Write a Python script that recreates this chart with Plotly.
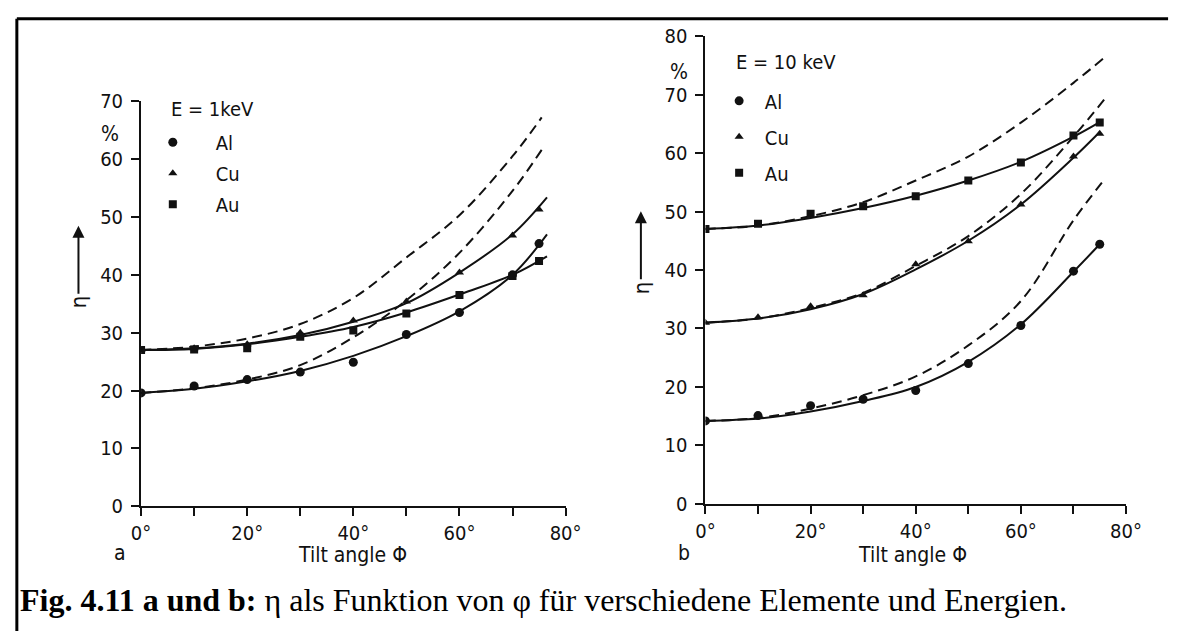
import plotly.graph_objects as go

W, H = 1188, 643

# ---------------- data ----------------
angles_pts = [0, 10, 20, 30, 40, 50, 60, 70, 75]

# panel a, E = 1 keV : measured points
a_al = [19.6, 20.8, 21.9, 23.2, 24.9, 29.7, 33.5, 40.0, 45.4]
a_cu = [27.0, 27.3, 28.0, 30.0, 32.1, 35.4, 40.4, 46.8, 51.3]
a_au = [27.0, 27.1, 27.3, 29.3, 30.4, 33.3, 36.5, 39.8, 42.4]
# panel a : solid fitted curves
a_fit_x = [0, 10, 20, 30, 40, 50, 60, 70, 76.5]
a_al_fit = [19.6, 20.3, 21.6, 23.4, 26.0, 29.4, 33.7, 40.0, 47.0]
a_cu_fit = [27.0, 27.3, 28.1, 29.6, 31.9, 35.1, 40.4, 47.0, 53.4]
a_au_fit = [27.0, 27.2, 28.0, 29.3, 31.0, 33.5, 36.6, 40.0, 43.2]
# panel a : dashed curves
a_dash_x = [0, 10, 20, 30, 40, 50, 60, 70, 75.5]
a_dash_upper = [27.0, 27.6, 29.0, 31.5, 36.0, 43.0, 50.3, 60.5, 67.2]
a_dash_lower = [19.6, 20.4, 21.9, 24.4, 29.2, 35.6, 43.8, 54.5, 61.6]

# panel b, E = 10 keV : measured points
b_al = [14.2, 15.1, 16.8, 17.9, 19.4, 24.0, 30.5, 39.8, 44.4]
b_cu = [31.0, 31.9, 33.8, 35.7, 41.0, 44.9, 51.2, 59.4, 63.3]
b_au = [47.0, 47.9, 49.6, 50.9, 52.6, 55.3, 58.4, 63.0, 65.2]
# panel b : solid fitted curves
b_fit_x = [0, 10, 20, 30, 40, 50, 60, 70, 75]
b_al_fit = [14.2, 14.6, 15.8, 17.6, 20.0, 24.3, 30.7, 39.7, 44.4]
b_cu_fit = [31.0, 31.7, 33.3, 35.9, 40.1, 45.0, 51.2, 59.2, 63.6]
b_au_fit = [47.0, 47.6, 48.9, 50.6, 52.7, 55.3, 58.5, 62.8, 65.3]
# panel b : dashed curves
b_dash_x = [0, 10, 20, 30, 40, 50, 60, 70, 76]
b_dash_au = [47.0, 47.6, 49.2, 51.6, 55.3, 59.4, 65.2, 72.0, 76.4]
b_dash_cu = [31.0, 31.7, 33.5, 36.1, 40.7, 45.8, 53.0, 62.8, 69.3]
b_dash_al = [14.2, 14.7, 16.3, 18.6, 21.8, 27.1, 34.7, 48.5, 55.6]

x_tickvals = [0, 10, 20, 30, 40, 50, 60, 70, 80]
x_ticktext = ["0°", "", "20°", "", "40°", "", "60°", "", "80°"]
ya_tickvals = [0, 10, 20, 30, 40, 50, 60, 70]
yb_tickvals = [0, 10, 20, 30, 40, 50, 60, 70, 80]

# ---------------- styling ----------------
INK = "#111111"
SANS = "DejaVu Sans Condensed, Liberation Sans Narrow, DejaVu Sans, sans-serif"
SERIF = "Liberation Serif, Times New Roman, serif"


def px(xp):
    return xp / W


def py(yp):
    return 1 - yp / H


fig = go.Figure()

line_solid = dict(color=INK, width=2, shape="spline", smoothing=1.0)
line_dash = dict(color=INK, width=2, dash="10px,6px", shape="spline", smoothing=1.0)

# ----- panel a -----
for xs, ys in [(a_fit_x, a_al_fit), (a_fit_x, a_cu_fit), (a_fit_x, a_au_fit)]:
    fig.add_trace(go.Scatter(x=xs, y=ys, mode="lines", line=line_solid,
                             showlegend=False, hoverinfo="skip", xaxis="x", yaxis="y"))
for xs, ys in [(a_dash_x, a_dash_upper), (a_dash_x, a_dash_lower)]:
    fig.add_trace(go.Scatter(x=xs, y=ys, mode="lines", line=line_dash,
                             showlegend=False, hoverinfo="skip", xaxis="x", yaxis="y"))

NB = "\u00a0"
pts_specs = [("Al", "circle", 9), ("Cu", "triangle-up", 8), ("Au", "square", 8)]
for (name, sym, sz), ys in zip(pts_specs, [a_al, a_cu, a_au]):
    fig.add_trace(go.Scatter(x=angles_pts, y=ys, mode="markers", name=NB * 4 + name,
                             marker=dict(symbol=sym, size=sz, color=INK),
                             legend="legend", legendgroup="a" + name,
                             xaxis="x", yaxis="y"))

# ----- panel b -----
for xs, ys in [(b_fit_x, b_al_fit), (b_fit_x, b_cu_fit), (b_fit_x, b_au_fit)]:
    fig.add_trace(go.Scatter(x=xs, y=ys, mode="lines", line=line_solid,
                             showlegend=False, hoverinfo="skip", xaxis="x2", yaxis="y2"))
for xs, ys in [(b_dash_x, b_dash_au), (b_dash_x, b_dash_cu), (b_dash_x, b_dash_al)]:
    fig.add_trace(go.Scatter(x=xs, y=ys, mode="lines", line=line_dash,
                             showlegend=False, hoverinfo="skip", xaxis="x2", yaxis="y2"))
for (name, sym, sz), ys in zip(pts_specs, [b_al, b_cu, b_au]):
    fig.add_trace(go.Scatter(x=angles_pts, y=ys, mode="markers", name=NB * 1 + name,
                             marker=dict(symbol=sym, size=sz, color=INK),
                             legend="legend2", legendgroup="b" + name,
                             xaxis="x2", yaxis="y2"))

tickfont = dict(family=SANS, size=20, color=INK)

xaxis_common = dict(range=[0, 80], tickmode="array", tickvals=x_tickvals, ticktext=x_ticktext,
                    showline=True, linecolor=INK, linewidth=2, ticks="outside", ticklen=8,
                    tickwidth=2, tickcolor=INK, showgrid=False, zeroline=False,
                    tickfont=tickfont, fixedrange=True)
yaxis_common = dict(showline=True, linecolor=INK, linewidth=2, ticks="outside", ticklen=8,
                    tickwidth=2, tickcolor=INK, showgrid=False, zeroline=False,
                    tickfont=tickfont, ticklabelstandoff=4, fixedrange=True)

# pixel geometry
a_x0, a_x80 = 134, 568
a_y0, a_y70 = 513.5, 92.7
b_x0, b_x80 = 711, 1141
b_y0, b_y80 = 511, 25

legend_font = dict(family=SANS, size=20, color=INK)

fig.update_layout(
    width=W, height=H,
    margin=dict(l=0, r=0, t=0, b=0),
    paper_bgcolor="white", plot_bgcolor="rgba(0,0,0,0)",
    xaxis=dict(domain=[px(a_x0), px(a_x80)], anchor="y", **xaxis_common),
    yaxis=dict(domain=[py(a_y0), py(a_y70)], range=[0, 70], anchor="x",
               tickvals=ya_tickvals, **yaxis_common),
    xaxis2=dict(domain=[px(b_x0), px(b_x80)], anchor="y2", **xaxis_common),
    yaxis2=dict(domain=[py(b_y0), py(b_y80)], range=[0, 80], anchor="x2",
                tickvals=yb_tickvals, **yaxis_common),
    legend=dict(x=px(146), y=py(115), xanchor="left", yanchor="top",
                bgcolor="rgba(0,0,0,0)", font=legend_font, tracegroupgap=2),
    legend2=dict(x=px(725), y=py(72), xanchor="left", yanchor="top",
                 bgcolor="rgba(0,0,0,0)", font=legend_font, tracegroupgap=7),
    showlegend=True,
)

annots = []
txt = dict(family=SANS, size=21, color=INK)


def note(xp, yp, text, font=txt, xanchor="center", yanchor="middle", **kw):
    annots.append(dict(x=px(xp), y=py(yp), xref="paper", yref="paper", text=text,
                       showarrow=False, font=font, xanchor=xanchor, yanchor=yanchor, **kw))


# legend headings
note(163, 101, "E = 1keV", font=legend_font, xanchor="left")
note(740, 52, "E = 10 keV", font=legend_font, xanchor="left")
# percent signs
note(102, 127, "%")
note(684, 62, "%")
# eta with arrows
annots.append(dict(x=px(70), y=py(222), xref="paper", yref="paper", text="η",
                   textangle=-90, font=dict(family=SANS, size=22, color=INK),
                   showarrow=True, arrowhead=2, arrowsize=1.2, arrowwidth=2,
                   arrowcolor=INK, ax=0, ay=76))
annots.append(dict(x=px(645), y=py(207), xref="paper", yref="paper", text="η",
                   textangle=-90, font=dict(family=SANS, size=22, color=INK),
                   showarrow=True, arrowhead=2, arrowsize=1.2, arrowwidth=2,
                   arrowcolor=INK, ax=0, ay=76))
# x titles and panel letters
note(350, 564, "Tilt angle Φ", font=dict(family=SANS, size=21, color=INK))
note(923, 564, "Tilt angle Φ", font=dict(family=SANS, size=21, color=INK))
note(112, 562, "a")
note(689, 562, "b")
# caption
note(8, 611, "<b>Fig. 4.11 a und b:</b> η als Funktion von φ für verschiedene Elemente und Energien.",
     font=dict(family=SERIF, size=32, color="#000000"), xanchor="left")
fig.update_layout(annotations=annots)

# frame around the figure (top and left edges visible)
fig.add_shape(type="line", xref="paper", yref="paper", x0=px(7), x1=px(1184), y0=py(7), y1=py(7),
              line=dict(color="#000000", width=3))
fig.add_shape(type="line", xref="paper", yref="paper", x0=px(7), x1=px(7), y0=py(7), y1=py(643),
              line=dict(color="#000000", width=3))

fig.write_html("out.html")
